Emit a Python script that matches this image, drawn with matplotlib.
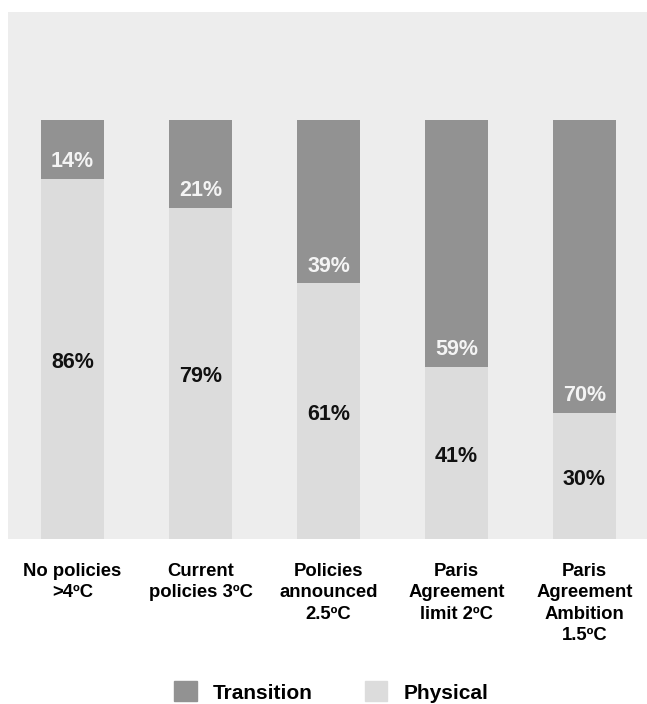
import matplotlib.pyplot as plt
from matplotlib.patches import Patch

plt.rcParams["font.family"] = ["Liberation Sans", "DejaVu Sans"]
plt.rcParams["font.weight"] = "bold"

scenarios = [
    "No policies\n>4ºC",
    "Current\npolicies 3ºC",
    "Policies\nannounced\n2.5ºC",
    "Paris\nAgreement\nlimit 2ºC",
    "Paris\nAgreement\nAmbition\n1.5ºC",
]
physical = [86, 79, 61, 41, 30]
transition = [14, 21, 39, 59, 70]

c_transition = "#929292"
c_physical = "#dcdcdc"

fig = plt.figure(figsize=(6.47, 7.04), dpi=100)
ax = fig.add_axes([8 / 647, 165 / 704, 639 / 647, 527 / 704])
ax.set_facecolor("#ededed")

x = list(range(len(scenarios)))
w = 0.49
ax.bar(x, physical, width=w, color=c_physical)
ax.bar(x, transition, width=w, bottom=physical, color=c_transition)

# physical share centred in its segment, transition share just above the split
for i in x:
    ax.annotate(f"{physical[i]}%", (i, physical[i] / 2), xytext=(0, -2.5),
                textcoords="offset points", ha="center", va="center",
                fontsize=15.5, fontweight="bold", color="#111111")
    ax.annotate(f"{transition[i]}%", (i, physical[i]), xytext=(0, 12.5),
                textcoords="offset points", ha="center", va="center",
                fontsize=15.5, fontweight="bold", color="#f4f4f4")

ax.set_xlim(-0.504, 4.488)
ax.set_ylim(0, 125.8)
ax.set_xticks(x)
ax.set_xticklabels(scenarios, fontsize=13.3, fontweight="bold", linespacing=1.35,
                   va="top")
ax.tick_params(axis="x", length=0, pad=17)
ax.set_yticks([])
for s in ax.spines.values():
    s.set_visible(False)

handles = [Patch(color=c_transition, label="Transition"),
           Patch(color=c_physical, label="Physical")]
fig.legend(handles=handles, loc="center", bbox_to_anchor=(331 / 647, 12 / 704),
           ncol=2, frameon=False, prop={"size": 15, "weight": "bold"},
           handlelength=1.1, handleheight=1.1, handletextpad=0.77,
           columnspacing=2.5, borderaxespad=0, borderpad=0)

fig.savefig("out.png", dpi=100)
